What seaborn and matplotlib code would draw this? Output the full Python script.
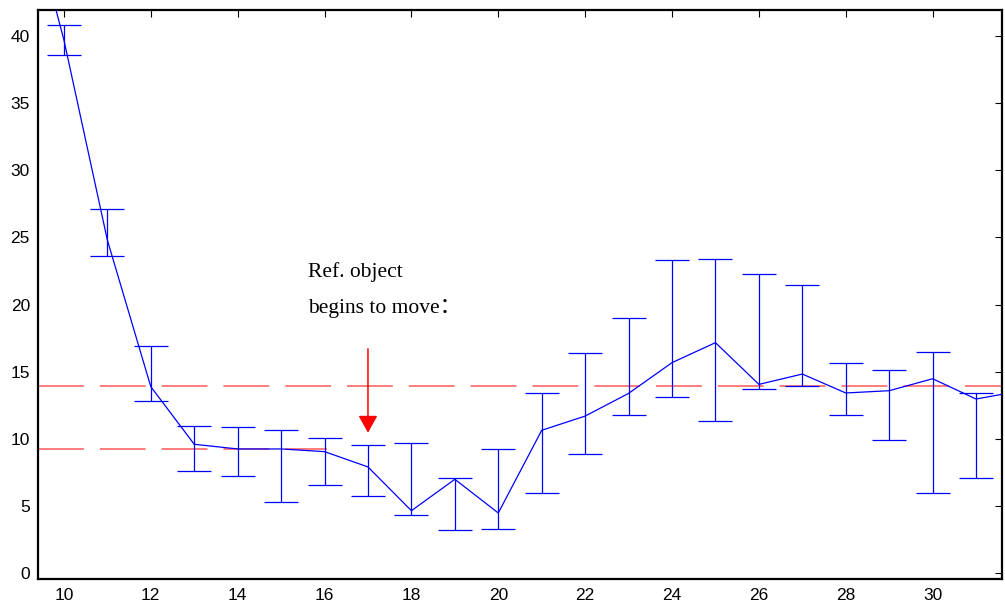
import numpy as np
import pandas as pd
import matplotlib
matplotlib.use("Agg")
import matplotlib.pyplot as plt
import seaborn as sns

# ---- data ----
frames = [9, 10, 11, 12, 13, 14, 15, 16, 17, 18, 19, 20, 21, 22, 23, 24, 25, 26, 27, 28, 29, 30, 31, 32]
mean_vals = [52.0, 39.7, 24.8, 13.88, 9.59, 9.24, 9.24, 9.04, 7.90, 4.64, 6.98, 4.47, 10.63, 11.69,
             13.38, 15.67, 17.16, 14.05, 14.82, 13.41, 13.58, 14.47, 12.96, 13.55]
upper_vals = [54.0, 40.85, 27.1, 16.9, 10.95, 10.87, 10.68, 10.06, 9.51, 9.68, 7.10, 9.24, 13.38, 16.36,
              18.97, 23.31, 23.39, 22.25, 21.43, 15.64, 15.12, 16.46, 13.38, 14.2]
lower_vals = [50.0, 38.6, 23.6, 12.84, 7.62, 7.25, 5.26, 6.53, 5.74, 4.30, 3.20, 3.30, 5.98, 8.89,
              11.77, 13.13, 11.32, 13.68, 13.95, 11.77, 9.88, 5.98, 7.08, 8.6]
ref_level_high = 13.95
ref_level_low = 9.24
ref_low_end = 16.05
arrow_x = 17
arrow_top = 16.7
arrow_tip = 10.45
xticks = list(range(10, 31, 2))
yticks = list(range(0, 41, 5))
label_line1 = "Ref. object"
label_line2 = "begins to move："

df = pd.DataFrame({"frame": frames, "value": mean_vals})

sns.set_theme(style="white")
plt.rcParams["font.family"] = ["Liberation Sans", "DejaVu Sans"]
plt.rcParams["lines.scale_dashes"] = False
plt.rcParams["text.color"] = "black"

fig = plt.figure(figsize=(10.05, 6.13), dpi=100)
ax = fig.add_axes([38.3 / 1005, 1 - 579.3 / 613, (1001.7 - 38.3) / 1005, (579.3 - 10) / 613])

# reference dashed lines
x_lo, x_hi = 9.41, 31.59
ax.plot([x_lo, x_hi], [ref_level_high, ref_level_high], color="red", alpha=0.6, lw=1.2,
        dashes=(33, 11.5), zorder=1)
ax.plot([x_lo, ref_low_end], [ref_level_low, ref_level_low], color="red", alpha=0.6, lw=1.2,
        dashes=(33, 11.5), zorder=1)

# error bars
y = np.array(mean_vals)
yerr = np.vstack([y - np.array(lower_vals), np.array(upper_vals) - y])
ax.errorbar(frames, mean_vals, yerr=yerr, fmt="none", ecolor="#0000ff", elinewidth=0.9,
            capsize=11.9, capthick=0.9, zorder=2)

# main line via seaborn
sns.lineplot(data=df, x="frame", y="value", ax=ax, color="#0000ff", lw=0.9, zorder=3)

# annotation
ax.annotate("", xy=(arrow_x, arrow_tip), xytext=(arrow_x, arrow_top),
            arrowprops=dict(arrowstyle="-|>,head_length=1.0,head_width=0.56", color="red",
                            lw=1.1, mutation_scale=10.5, shrinkA=0, shrinkB=0))
ax.text(15.61, 22.05, label_line1, fontsize=15.5, va="baseline", ha="left", color="black",
        family=["Liberation Serif", "Noto Sans CJK SC"])
ax.text(15.61, 19.39, label_line2, fontsize=15.5, va="baseline", ha="left", color="black",
        family=["Liberation Serif", "Noto Sans CJK SC"])

ax.set_xlim(x_lo, x_hi)
ax.set_ylim(-0.47, 41.94)
ax.set_xticks(xticks)
ax.set_yticks(yticks)
ax.set_xlabel("")
ax.set_ylabel("")
ax.tick_params(direction="in", length=5, width=0.8, colors="black", labelsize=12.5,
               top=True, right=True, labeltop=False, labelright=False, pad=6)
for s in ax.spines.values():
    s.set_visible(True)
    s.set_color("black")
    s.set_linewidth(1.6)

fig.savefig("out.png", dpi=100)
